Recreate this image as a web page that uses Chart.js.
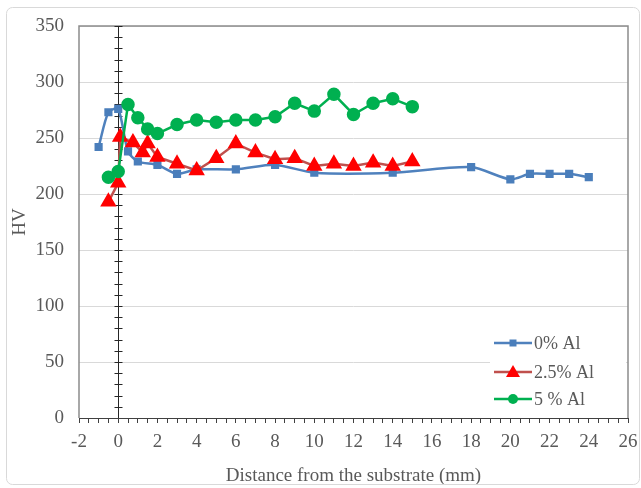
<!DOCTYPE html>
<html lang="en">
<head>
<meta charset="UTF-8">
<title>HV vs distance</title>
<script src="https://cdn.jsdelivr.net/npm/chart.js"></script>
<style>
  html, body { margin: 0; padding: 0; background: #fff; }
  #wrap { width: 641px; height: 488px; position: relative; }
</style>
</head>
<body>
<div id="wrap"><canvas id="myChart"></canvas></div>
<script>
// distances (mm) and hardness (HV)
const seriesNames = ['0% Al', '2.5% Al', '5 % Al'];

const x0 = [-1, -0.5, 0, 0.5, 1, 2, 3, 4, 6, 8, 10, 14, 18, 20, 21, 22, 23, 24];
const hv0 = [242, 273, 276, 238, 229, 226, 218, 222, 222, 226, 219, 219, 224, 213, 218, 218, 218, 215];

const x25 = [-0.5, 0, 0.1, 0.75, 1.25, 1.5, 2, 3, 4, 5, 6, 7, 8, 9, 10, 11, 12, 13, 14, 15];
const hv25 = [193, 210, 251, 246, 237, 245, 233, 227, 221, 232, 245, 237, 231, 232, 225, 227, 225, 228, 225, 229];

const x5 = [-0.5, 0, 0.5, 1, 1.5, 2, 3, 4, 5, 6, 7, 8, 9, 10, 11, 12, 13, 14, 15];
const hv5 = [215, 220, 280, 268, 258, 254, 262, 266, 264, 266, 266, 269, 281, 274, 289, 271, 281, 285, 278];

const xMin = -2, xMax = 26, xMajor = 2, xMinor = 0.5;
const yMin = 0, yMax = 350, yStep = 50, yMinor = 10;

const toPts = (xs, ys) => xs.map((x, i) => ({ x: x, y: ys[i] }));

const FONT = "'Liberation Serif', 'Times New Roman', serif";
const FSIZE = 19;
const GREY = '#595959';

// zero line with cross ticks, plot frame
const framePlugin = {
    id: 'frame',
    beforeDatasetsDraw(chart) {
        const { ctx, chartArea: a, scales } = chart;
        ctx.save();
        ctx.strokeStyle = '#8c8c8c';
        ctx.lineWidth = 1.5;
        ctx.beginPath();
        ctx.moveTo(a.left, a.bottom);
        ctx.lineTo(a.left, a.top);
        ctx.lineTo(a.right, a.top);
        ctx.lineTo(a.right, a.bottom);
        ctx.stroke();

        const zx = Math.round(scales.x.getPixelForValue(0)) + 0.5;
        ctx.strokeStyle = '#262626';
        ctx.lineWidth = 1;
        ctx.beginPath();
        ctx.moveTo(zx, a.top);
        ctx.lineTo(zx, a.bottom);
        for (let v = yMin + yMinor; v <= yMax; v += yMinor) {
            const py = Math.round(scales.y.getPixelForValue(v)) + 0.5;
            ctx.moveTo(zx - 4, py);
            ctx.lineTo(zx + 4, py);
        }
        ctx.stroke();
        ctx.restore();
    },
    afterDraw(chart) {
        const { ctx } = chart;
        ctx.save();
        ctx.strokeStyle = '#d9d9d9';
        ctx.lineWidth = 1;
        ctx.beginPath();
        ctx.roundRect(6.5, 7.5, 633, 477, 6);
        ctx.stroke();
        ctx.restore();
    }
};

// legend sitting inside the plot, lower right
const legendPlugin = {
    id: 'insideLegend',
    afterDatasetsDraw(chart) {
        const { ctx, chartArea: a } = chart;
        ctx.save();
        ctx.fillStyle = '#fff';
        ctx.fillRect(490, 330, a.right - 2 - 490, 82);
        const rows = [343, 372, 399];
        chart.data.datasets.forEach((ds, i) => {
            const y = rows[i];
            ctx.strokeStyle = ds.borderColor;
            ctx.lineWidth = 2.5;
            ctx.beginPath();
            ctx.moveTo(494, y);
            ctx.lineTo(532, y);
            ctx.stroke();
            ctx.fillStyle = ds.pointBackgroundColor;
            ctx.beginPath();
            if (ds.pointStyle === 'rect') {
                ctx.rect(513 - 3.5, y - 3.5, 7, 7);
            } else if (ds.pointStyle === 'triangle') {
                ctx.moveTo(513, y - 7);
                ctx.lineTo(520, y + 5);
                ctx.lineTo(506, y + 5);
                ctx.closePath();
            } else {
                ctx.arc(513, y, 5, 0, Math.PI * 2);
            }
            ctx.fill();
            ctx.fillStyle = GREY;
            ctx.font = (FSIZE - 1) + 'px ' + FONT;
            ctx.textBaseline = 'middle';
            ctx.textAlign = 'left';
            ctx.fillText(ds.label, 534, y + 1);
        });
        ctx.restore();
    }
};

const ctx = document.getElementById('myChart').getContext('2d');
new Chart(ctx, {
    type: 'line',
    data: {
        datasets: [
            {
                label: seriesNames[0],
                data: toPts(x0, hv0),
                borderColor: '#4f81bd',
                backgroundColor: '#4a7ebb',
                pointBackgroundColor: '#4a7ebb',
                pointBorderColor: '#4a7ebb',
                pointStyle: 'rect',
                pointRadius: 4,
                borderWidth: 2.5,
                tension: 0.25,
                order: 3
            },
            {
                label: seriesNames[1],
                data: toPts(x25, hv25),
                borderColor: '#c0504d',
                backgroundColor: '#ff0000',
                pointBackgroundColor: '#ff0000',
                pointBorderColor: '#ff0000',
                pointStyle: 'triangle',
                pointRadius: 7,
                borderWidth: 2.5,
                tension: 0,
                order: 2
            },
            {
                label: seriesNames[2],
                data: toPts(x5, hv5),
                borderColor: '#00b050',
                backgroundColor: '#00b050',
                pointBackgroundColor: '#00b050',
                pointBorderColor: '#00b050',
                pointStyle: 'circle',
                pointRadius: 5.5,
                borderWidth: 2.5,
                tension: 0,
                order: 1
            }
        ]
    },
    options: {
        responsive: true,
        maintainAspectRatio: false,
        animation: false,
        layout: { padding: { left: 0, top: 26, right: 13, bottom: 0 } },
        plugins: {
            legend: { display: false },
            tooltip: { enabled: false }
        },
        scales: {
            x: {
                type: 'linear',
                min: xMin,
                max: xMax,
                afterFit: s => { s.height = 70; s.paddingLeft = 0; s.paddingRight = 0; },
                afterBuildTicks: s => {
                    const t = [];
                    for (let v = xMin; v <= xMax + 1e-9; v += xMinor) t.push({ value: v });
                    s.ticks = t;
                },
                ticks: {
                    autoSkip: false,
                    maxRotation: 0,
                    color: GREY,
                    padding: 8,
                    font: { family: FONT, size: FSIZE },
                    callback: v => (v % xMajor === 0 ? String(v) : '')
                },
                grid: {
                    drawOnChartArea: false,
                    drawTicks: true,
                    tickLength: 5,
                    color: '#404040'
                },
                border: { color: '#404040', width: 1 },
                title: {
                    display: true,
                    text: 'Distance from the substrate (mm)',
                    color: GREY,
                    font: { family: FONT, size: FSIZE },
                    padding: { top: 4, bottom: 1 }
                }
            },
            y: {
                min: yMin,
                max: yMax,
                afterFit: s => { s.width = 79; s.paddingTop = 0; s.paddingBottom = 0; },
                ticks: {
                    stepSize: yStep,
                    color: GREY,
                    padding: 15,
                    font: { family: FONT, size: FSIZE }
                },
                grid: {
                    color: '#d9d9d9',
                    drawTicks: false
                },
                border: { display: false },
                title: {
                    display: true,
                    text: 'HV',
                    color: GREY,
                    font: { family: FONT, size: FSIZE },
                    padding: { top: 9, bottom: 0 }
                }
            }
        }
    },
    plugins: [framePlugin, legendPlugin]
});
</script>
</body>
</html>
